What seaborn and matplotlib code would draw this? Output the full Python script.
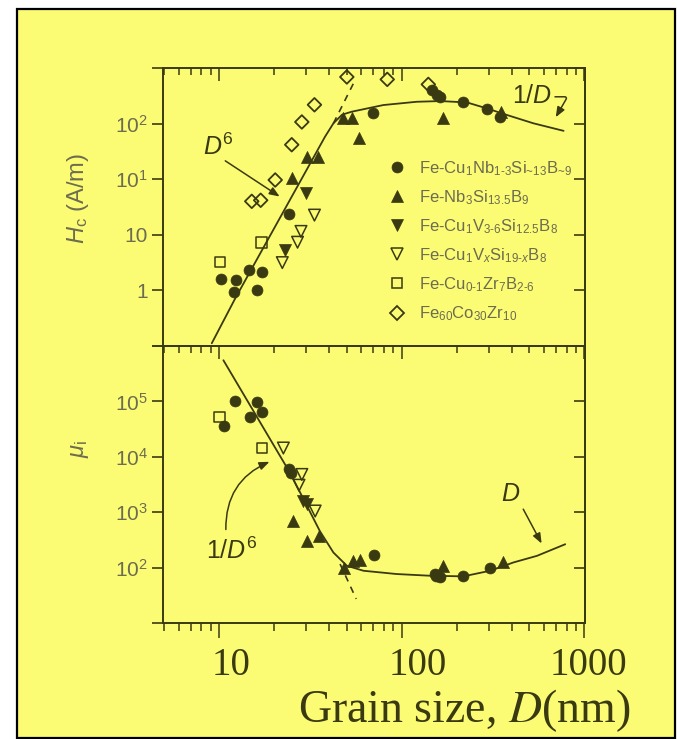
import matplotlib
matplotlib.use('Agg')
import matplotlib.pyplot as plt
import seaborn as sns
from matplotlib.lines import Line2D
from matplotlib.patches import Rectangle
from matplotlib.ticker import LogLocator, NullLocator, NullFormatter
from matplotlib.transforms import ScaledTranslation

# grain size D (nm) and coercivity Hc (A/m)
hc_nb_d = [10.2, 12.4, 12.1, 14.6, 17.2, 16.1, 24.1, 69.5, 146, 157, 163, 218, 295, 345]
hc_nb = [1.62, 1.51, 0.93, 2.28, 2.18, 1.03, 23.2, 1528, 4000, 3260, 3035, 2472, 1800, 1290]
hc_nbsib_d = [25.0, 30.5, 35.0, 47.8, 53.8, 58.7, 168, 351]
hc_nbsib = [105, 247, 247, 1245, 1245, 540, 1280, 1590]
hc_v_d = [23.1, 30.1]
hc_v = [5.4, 56.9]
hc_vx_d = [22.2, 26.9, 28.1, 33.3]
hc_vx = [3.16, 7.35, 11.5, 22.6]
hc_zr_d = [10.1, 17.1]
hc_zr = [3.2, 7.3]
hc_co_d = [15.1, 16.9, 20.3, 25.0, 28.4, 33.3, 50.1, 83.4, 140]
hc_co = [40, 41.8, 96.8, 417, 1070, 2180, 6900, 6240, 5070]

hc_fit_d = [9.12, 12.24, 38.1, 42.3, 47.2, 53.3, 79.4, 121, 163, 228, 293, 377, 527, 771]
hc_fit = [0.112, 0.711, 586, 1012, 1448, 1637, 2157, 2470, 2543, 2400, 1876, 1430, 1012, 741]
hc_dash_d = [42.3, 55]
hc_dash = [1012, 5650]

# initial permeability mu_i
mu_nb_d = [12.24, 10.6, 14.7, 16.2, 17.2, 24.3, 24.8, 70.2, 152, 154.6, 163, 218, 303]
mu_nb = [1.03e5, 3.6e4, 5.3e4, 9.6e4, 6.5e4, 6.0e3, 5.2e3, 168, 76, 71.3, 66.7, 71.3, 96.8]
mu_nbsib_d = [25.4, 30.2, 35.4, 48.4, 54.4, 59.3, 169, 357]
mu_nbsib = [692, 303, 372, 97, 132, 138, 108, 124]
mu_v_d = [29.0, 30.2]
mu_v = [1580, 1380]
mu_vx_d = [22.5, 28.4, 27.4, 33.6]
mu_vx = [1.44e4, 4.8e3, 3.07e3, 1.05e3]
mu_zr_d = [10.04, 17.2]
mu_zr = [5.2e4, 1.44e4]

mu_fit_d = [10.56, 24.5, 35.7, 42.3, 50.1, 61.8, 94.1, 143, 218, 305, 410, 551, 787]
mu_fit = [5.53e5, 5.1e3, 452, 187, 108, 87.7, 76.5, 71.3, 69.5, 87.7, 124, 163, 264]
mu_dash_d = [46, 56.4]
mu_dash = [116, 27.2]

series_labels = [
    r'Fe-Cu$_1$Nb$_{1\text{-}3}$Si$_{\text{~}13}$B$_{\text{~}9}$',
    r'Fe-Nb$_3$Si$_{13.5}$B$_9$',
    r'Fe-Cu$_1$V$_{3\text{-}6}$Si$_{12.5}$B$_8$',
    r'Fe-Cu$_1$V$_x$Si$_{19\text{-}x}$B$_8$',
    r'Fe-Cu$_{0\text{-}1}$Zr$_7$B$_{2\text{-}6}$',
    r'Fe$_{60}$Co$_{30}$Zr$_{10}$',
]
x_ticks = [10, 100, 1000]
x_ticklabels = ['10', '100', '1000']
hc_ticks = [0.1, 1, 10, 100, 1000, 1e4]
hc_ticklabels = ['', '1', '10', r'10$^1$', r'10$^2$', '']
mu_ticks = [10, 100, 1e3, 1e4, 1e5, 1e6]
mu_ticklabels = ['', r'10$^2$', r'10$^3$', r'10$^4$', r'10$^5$', '']

sns.set_theme(style='white')
plt.rcParams['font.family'] = ['Liberation Sans', 'DejaVu Sans']
plt.rcParams['mathtext.fontset'] = 'custom'
plt.rcParams['mathtext.rm'] = 'Liberation Sans'
plt.rcParams['mathtext.it'] = 'Liberation Sans:italic'
plt.rcParams['mathtext.bf'] = 'Liberation Sans:bold'

bg = '#fcfc74'
ink = '#3a3a12'
gray = '#6c6c50'

fig = plt.figure(figsize=(6.77, 7.39), dpi=100, facecolor='white')
fig.patches.append(Rectangle((17 / 677, 1 / 739), 658 / 677, 729 / 739, transform=fig.transFigure,
                             facecolor=bg, edgecolor='black', lw=1.6, zorder=-5))

ax1 = fig.add_axes([163 / 677, 1 - 346 / 739, 422 / 677, 278 / 739])
ax2 = fig.add_axes([163 / 677, 1 - 623 / 739, 422 / 677, 277 / 739])

markers = [
    dict(marker='o', s=62, color=ink, edgecolor=ink, linewidth=0.5),
    dict(marker='^', s=75, color=ink, edgecolor=ink, linewidth=0.5),
    dict(marker='v', s=75, color=ink, edgecolor=ink, linewidth=0.5),
    dict(marker='v', s=70, color=ink, facecolor='none', edgecolor=ink, linewidth=1.1),
    dict(marker='s', s=55, color=ink, facecolor='none', edgecolor=ink, linewidth=1.1),
    dict(marker='D', s=48, color=ink, facecolor='none', edgecolor=ink, linewidth=1.3),
]

for ax in (ax1, ax2):
    ax.set_xscale('log')
    ax.set_yscale('log')
    ax.set_facecolor('none')

hc_sets = [(hc_nb_d, hc_nb), (hc_nbsib_d, hc_nbsib), (hc_v_d, hc_v), (hc_vx_d, hc_vx),
           (hc_zr_d, hc_zr), (hc_co_d, hc_co)]
for (xs, ys), mk in zip(hc_sets, markers):
    sns.scatterplot(x=xs, y=ys, ax=ax1, zorder=3, **mk)
sns.lineplot(x=hc_fit_d, y=hc_fit, ax=ax1, color=ink, lw=1.3, sort=False, estimator=None)
sns.lineplot(x=hc_dash_d, y=hc_dash, ax=ax1, color=ink, lw=1.2, sort=False, estimator=None,
             linestyle=(0, (4, 3.5)))

mu_sets = [(mu_nb_d, mu_nb), (mu_nbsib_d, mu_nbsib), (mu_v_d, mu_v), (mu_vx_d, mu_vx),
           (mu_zr_d, mu_zr)]
for (xs, ys), mk in zip(mu_sets, markers):
    sns.scatterplot(x=xs, y=ys, ax=ax2, zorder=3, **mk)
sns.lineplot(x=mu_fit_d, y=mu_fit, ax=ax2, color=ink, lw=1.3, sort=False, estimator=None)
sns.lineplot(x=mu_dash_d, y=mu_dash, ax=ax2, color=ink, lw=1.2, sort=False, estimator=None,
             linestyle=(0, (4, 3.5)))

ax1.set_ylim(0.1, 1e4)
ax2.set_ylim(10, 1e6)
for ax in (ax1, ax2):
    ax.set_xlim(4.93, 1010)
    for sp in ax.spines.values():
        sp.set_color(ink)
        sp.set_linewidth(1.4)
    ax.yaxis.set_minor_locator(NullLocator())
    ax.xaxis.set_minor_locator(LogLocator(base=10, subs=range(2, 10)))
    ax.xaxis.set_minor_formatter(NullFormatter())
    ax.tick_params(axis='y', which='major', left=True, right=False, direction='out', length=8,
                   width=1.2, color=ink, labelsize=15, labelcolor=gray, pad=3)

ax1.set_yticks(hc_ticks, hc_ticklabels)
ax2.set_yticks(mu_ticks, mu_ticklabels)

# upper panel: x ticks only on top, inward
ax1.set_xticks(x_ticks)
ax1.tick_params(axis='x', which='both', bottom=False, top=True, labelbottom=False, labeltop=False,
                direction='in', color=ink, width=1.1)
ax1.tick_params(axis='x', which='major', length=9)
ax1.tick_params(axis='x', which='minor', length=5)

# lower panel: bottom ticks outward with serif labels
ax2.set_xticks(x_ticks, x_ticklabels)
ax2.tick_params(axis='x', which='both', bottom=True, top=False, direction='out', color=ink, width=1.1)
ax2.tick_params(axis='x', which='major', length=11, labelsize=28, labelcolor=ink, pad=6)
ax2.tick_params(axis='x', which='minor', length=6)
for lab, dx in zip(ax2.get_xticklabels(), [12, 16, 4]):
    lab.set_fontfamily(['Liberation Serif'])
    lab.set_transform(lab.get_transform() + ScaledTranslation(dx / 100, 0, fig.dpi_scale_trans))

# inward ticks on the right of both panels and top of the lower panel
for ax, ticks in ((ax1, hc_ticks), (ax2, mu_ticks)):
    sec = ax.secondary_yaxis('right')
    sec.set_yticks(ticks)
    sec.yaxis.set_minor_locator(NullLocator())
    sec.tick_params(axis='y', which='major', direction='in', length=8, width=1.2, color=ink,
                    labelright=False)
    sec.spines['right'].set_color(ink)
    sec.spines['right'].set_linewidth(1.4)
sec_top = ax2.secondary_xaxis('top')
sec_top.set_xticks(x_ticks)
sec_top.xaxis.set_minor_locator(LogLocator(base=10, subs=range(2, 10)))
sec_top.xaxis.set_minor_formatter(NullFormatter())
sec_top.tick_params(axis='x', which='both', direction='in', color=ink, width=1.1, labeltop=False)
sec_top.tick_params(axis='x', which='major', length=9)
sec_top.tick_params(axis='x', which='minor', length=5)
sec_top.spines['top'].set_color(ink)
sec_top.spines['top'].set_linewidth(1.4)

ax1.set_ylabel(r'$H_\mathrm{c}$ (A/m)', fontsize=17, color=gray)
ax1.yaxis.set_label_coords(-0.17, 0.53)
ax2.set_ylabel(r'$\mu_\mathrm{i}$', fontsize=17, color=gray)
ax2.yaxis.set_label_coords(-0.17, 0.63)
ax2.set_xlabel(r'Grain size, $D$(nm)', fontsize=33, color=ink, fontfamily=['Liberation Serif'],
               math_fontfamily='stix')
ax2.xaxis.set_label_coords(0.713, -0.232)

# annotations
arrow_kw = dict(arrowstyle='-|>,head_length=0.5,head_width=0.2', color=ink, lw=1.1)
ax1.text(9.9, 388, r'$D^6$', fontsize=18, color=ink, ha='center', va='center')
ax1.annotate('', xy=(22.1, 45.8), xytext=(10.5, 228), arrowprops=arrow_kw)
ax1.text(519, 3160, r'$1/D$', fontsize=18, color=ink, ha='center', va='center')
ax1.annotate('', xy=(686, 1179), xytext=(668, 3035),
             arrowprops=dict(connectionstyle='angle,angleA=0,angleB=60,rad=3', **arrow_kw))
ax2.text(11.7, 200, r'$1/D^6$', fontsize=18, color=ink, ha='center', va='center')
ax2.annotate('', xy=(19.5, 8.5e3), xytext=(10.9, 434),
             arrowprops=dict(connectionstyle='arc3,rad=-0.35', **arrow_kw))
ax2.text(393, 2170, r'$D$', fontsize=18, color=ink, ha='center', va='center')
ax2.annotate('', xy=(594, 246), xytext=(456, 1256), arrowprops=arrow_kw)

handles = []
for mk in markers:
    fc = mk.get('facecolor', ink)
    handles.append(Line2D([], [], linestyle='none', marker=mk['marker'], markersize=mk['s'] ** 0.5,
                          markerfacecolor=fc, markeredgecolor=ink, markeredgewidth=mk['linewidth']))
ax1.legend(handles, series_labels, loc='upper left', bbox_to_anchor=(0.535, 0.672), frameon=False,
           fontsize=12, labelcolor=gray, handlelength=1.0, handletextpad=0.8, labelspacing=0.62,
           borderpad=0, borderaxespad=0)

fig.savefig('out.png', dpi=100, facecolor='white')
